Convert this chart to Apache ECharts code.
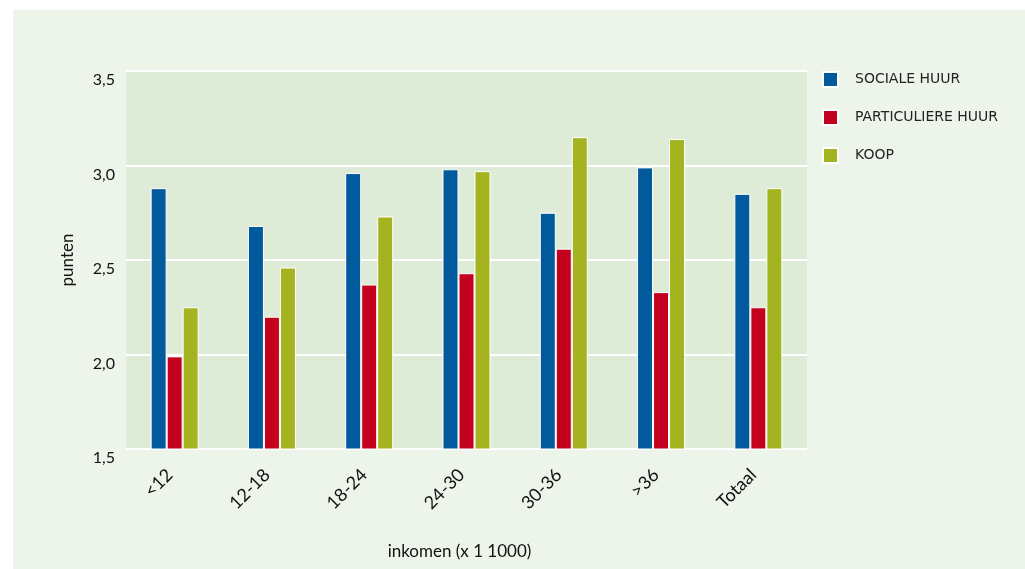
<!DOCTYPE html>
<html>
<head>
<meta charset="utf-8">
<script src="https://cdn.jsdelivr.net/npm/echarts@6/dist/echarts.min.js"></script>
<style>
  html, body { margin: 0; padding: 0; background: #ffffff; }
  #wrap { position: absolute; left: 13px; top: 10px; width: 1012px; height: 559px; background: #edf5eb; }
  #chart { position: absolute; left: 0; top: 0; width: 1025px; height: 569px; }
</style>
</head>
<body>
<div id="wrap"></div>
<div id="chart"></div>
<script>
const categories = ['<12', '12-18', '18-24', '24-30', '30-36', '>36', 'Totaal'];
const seriesNames = ['SOCIALE HUUR', 'PARTICULIERE HUUR', 'KOOP'];
const socialeHuur = [2.88, 2.68, 2.96, 2.98, 2.75, 2.99, 2.85];
const particuliereHuur = [1.99, 2.20, 2.37, 2.43, 2.56, 2.33, 2.25];
const koop = [2.25, 2.46, 2.73, 2.97, 3.15, 3.14, 2.88];
const colors = ['#005a9c', '#c4001f', '#a3b420'];

const chart = echarts.init(document.getElementById('chart'), null, { renderer: 'canvas' });
const font = 'Lato, "Open Sans", sans-serif';

function bar(name, data, color) {
  return {
    name: name,
    type: 'bar',
    data: data,
    barWidth: 16,
    barGap: '0%',
    itemStyle: { color: color, borderColor: '#ffffff', borderWidth: 1 }
  };
}

chart.setOption({
  backgroundColor: 'transparent',
  animation: false,
  textStyle: { fontFamily: font },
  grid: {
    left: 126, right: 218, top: 71, bottom: 120,
    show: true, backgroundColor: '#deecd7', borderWidth: 0
  },
  legend: {
    orient: 'vertical',
    left: 822, top: 71, padding: 0,
    itemWidth: 15, itemHeight: 15, itemGap: 21,
    icon: 'rect',
    data: seriesNames,
    textStyle: { fontFamily: '"DejaVu Sans", sans-serif', fontSize: 14, color: '#222222', padding: [0, 0, 0, 12] }
  },
  xAxis: {
    type: 'category',
    data: categories,
    axisLine: { show: false },
    axisTick: { show: false },
    axisLabel: {
      rotate: 45, margin: 18, fontSize: 18, color: '#111111', fontFamily: font,
      padding: [0, 7, 0, 0]
    },
    name: 'inkomen (x 1 1000)',
    nameLocation: 'middle',
    nameGap: 94,
    nameTextStyle: { fontSize: 17, color: '#111111', fontFamily: font, padding: [0, 14, 0, 0] }
  },
  yAxis: {
    type: 'value',
    min: 1.5, max: 3.5, interval: 0.5,
    axisLine: { show: false },
    axisTick: { show: false },
    splitLine: { lineStyle: { color: '#ffffff', width: 2 } },
    axisLabel: {
      margin: 11, fontSize: 16, color: '#111111', fontFamily: font,
      verticalAlign: 'top', lineHeight: 18,
      formatter: v => v.toFixed(1).replace('.', ',')
    },
    name: 'punten',
    nameLocation: 'middle',
    nameGap: 50,
    nameTextStyle: { fontSize: 17, color: '#111111', fontFamily: font }
  },
  series: [
    bar(seriesNames[0], socialeHuur, colors[0]),
    bar(seriesNames[1], particuliereHuur, colors[1]),
    bar(seriesNames[2], koop, colors[2])
  ]
});
</script>
</body>
</html>
